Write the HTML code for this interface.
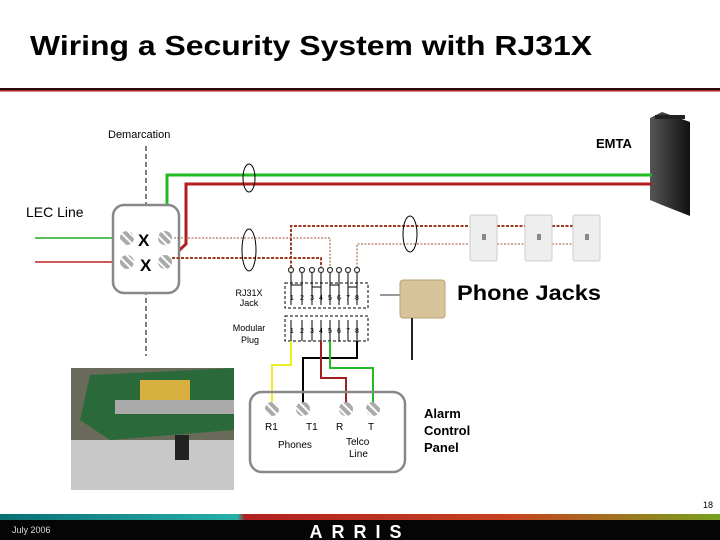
<!DOCTYPE html>
<html><head><meta charset="utf-8"><style>
body{margin:0;background:#fff;}
svg{display:block;font-family:"Liberation Sans",sans-serif;}
</style></head><body>
<svg width="720" height="540" viewBox="0 0 720 540">
<defs>
<linearGradient id="fb" x1="0" x2="1"><stop offset="0" stop-color="#0a6f72"/><stop offset="0.33" stop-color="#25b0a8"/><stop offset="0.34" stop-color="#b02020"/><stop offset="0.7" stop-color="#c84020"/><stop offset="1" stop-color="#78a020"/></linearGradient>
<linearGradient id="em" x1="0" x2="1"><stop offset="0" stop-color="#555"/><stop offset="1" stop-color="#111"/></linearGradient>
<pattern id="scr" width="6" height="6" patternUnits="userSpaceOnUse" patternTransform="rotate(45)"><rect width="6" height="6" fill="#aaa"/><rect width="6" height="2" fill="#fff"/></pattern>
</defs>
<text x="30" y="55" font-size="28" font-weight="bold" fill="#000" textLength="562" lengthAdjust="spacingAndGlyphs">Wiring a Security System with RJ31X</text>
<rect x="0" y="88" width="720" height="2" fill="#2a0a0a"/>
<rect x="0" y="90" width="720" height="1.5" fill="#a82020"/>

<text x="108" y="138" font-size="11" fill="#000">Demarcation</text>
<line x1="146" y1="146" x2="146" y2="356" stroke="#000" stroke-dasharray="5,3"/>
<text x="26" y="217" font-size="14" fill="#000">LEC Line</text>
<text x="596" y="148" font-size="13" font-weight="bold">EMTA</text>

<polygon points="650,118 662,112 690,122 690,216 662,205 650,200" fill="url(#em)"/>
<rect x="655" y="115" width="30" height="4" fill="#222"/>

<line x1="35" y1="238" x2="122" y2="238" stroke="#2a2" stroke-width="1.5"/>
<line x1="35" y1="262" x2="122" y2="262" stroke="#c02020" stroke-width="1.5"/>
<polyline points="167,232 167,175 652,175" fill="none" stroke="#2b2" stroke-width="3"/>
<polyline points="171,258 186,244 186,184 652,184" fill="none" stroke="#b01e1e" stroke-width="3"/>

<rect x="113" y="205" width="66" height="88" rx="11" fill="#fff" stroke="#888" stroke-width="2.5"/>
<circle cx="127" cy="238" r="7" fill="url(#scr)"/><circle cx="165" cy="238" r="7" fill="url(#scr)"/>
<circle cx="127" cy="262" r="7" fill="url(#scr)"/><circle cx="165" cy="262" r="7" fill="url(#scr)"/>
<text x="138" y="246" font-size="17" font-weight="bold">X</text>
<text x="140" y="271" font-size="17" font-weight="bold">X</text>

<polyline points="174,238 330,238 330,268" fill="none" stroke="#a05030" stroke-width="1" stroke-dasharray="2,1.5"/>
<polyline points="172,258 321,258 321,268" fill="none" stroke="#a03a20" stroke-width="2" stroke-dasharray="3,1.5"/>
<polyline points="291,268 291,226 470,226" fill="none" stroke="#a03a20" stroke-width="2" stroke-dasharray="3,1.5"/>
<polyline points="357,268 357,244 470,244" fill="none" stroke="#a05030" stroke-width="1" stroke-dasharray="2,1.5"/>
<line x1="497" y1="226" x2="525" y2="226" stroke="#a03a20" stroke-width="2" stroke-dasharray="3,1.5"/>
<line x1="552" y1="226" x2="573" y2="226" stroke="#a03a20" stroke-width="2" stroke-dasharray="3,1.5"/>
<line x1="497" y1="244" x2="525" y2="244" stroke="#a05030" stroke-dasharray="2,1.5"/>
<line x1="552" y1="244" x2="573" y2="244" stroke="#a05030" stroke-dasharray="2,1.5"/>

<ellipse cx="249" cy="178" rx="6" ry="14" fill="none" stroke="#000"/>
<ellipse cx="249" cy="250" rx="7" ry="21" fill="none" stroke="#000"/>
<ellipse cx="410" cy="234" rx="7" ry="18" fill="none" stroke="#000"/>

<g fill="#eee" stroke="#ccc"><rect x="470" y="215" width="27" height="46" rx="2"/><rect x="525" y="215" width="27" height="46" rx="2"/><rect x="573" y="215" width="27" height="46" rx="2"/></g>
<g fill="#888"><rect x="482" y="234" width="4" height="6"/><rect x="537" y="234" width="4" height="6"/><rect x="585" y="234" width="4" height="6"/></g>

<g fill="#fff" stroke="#333" stroke-width="1.2">
<circle cx="291" cy="270" r="2.5"/><circle cx="302" cy="270" r="2.5"/><circle cx="312" cy="270" r="2.5"/><circle cx="321" cy="270" r="2.5"/><circle cx="330" cy="270" r="2.5"/><circle cx="339" cy="270" r="2.5"/><circle cx="348" cy="270" r="2.5"/><circle cx="357" cy="270" r="2.5"/></g>
<g stroke="#000" stroke-width="1" fill="none">
<path d="M291,273V305M302,273V305M312,273V305M321,273V305M330,273V305M339,273V305M348,273V305M357,273V305"/>
<path d="M291,285H302M312,287H321M330,285H339M348,287H357"/>
<path d="M291,320V341M302,320V341M312,320V341M321,320V341M330,320V341M339,320V341M348,320V341M357,320V341"/>
</g>
<rect x="285" y="283" width="83" height="25" fill="none" stroke="#000" stroke-dasharray="3,2"/>
<rect x="285" y="316" width="83" height="25" fill="none" stroke="#000" stroke-dasharray="3,2"/>
<g font-size="7" text-anchor="middle"><text x="292" y="300">1</text><text x="302" y="300">2</text><text x="312" y="300">3</text><text x="321" y="300">4</text><text x="330" y="300">5</text><text x="339" y="300">6</text><text x="348" y="300">7</text><text x="357" y="300">8</text>
<text x="292" y="333">1</text><text x="302" y="333">2</text><text x="312" y="333">3</text><text x="321" y="333">4</text><text x="330" y="333">5</text><text x="339" y="333">6</text><text x="348" y="333">7</text><text x="357" y="333">8</text></g>
<g font-size="9" text-anchor="middle"><text x="249" y="296">RJ31X</text><text x="249" y="306">Jack</text><text x="249" y="331">Modular</text><text x="250" y="343">Plug</text></g>

<text x="457" y="300" font-size="21" font-weight="bold" textLength="144" lengthAdjust="spacingAndGlyphs">Phone Jacks</text>
<line x1="380" y1="295" x2="401" y2="295" stroke="#333"/>
<rect x="400" y="280" width="45" height="38" rx="3" fill="#d8c49a" stroke="#b8a478"/>
<line x1="412" y1="318" x2="412" y2="360" stroke="#222" stroke-width="2"/>

<polyline points="291,341 291,365 272,365 272,403" fill="none" stroke="#ee2" stroke-width="2"/>
<polyline points="357,341 357,358 303,358 303,403" fill="none" stroke="#000" stroke-width="2"/>
<polyline points="321,341 321,378 346,378 346,403" fill="none" stroke="#a02020" stroke-width="2"/>
<polyline points="330,341 330,368 373,368 373,403" fill="none" stroke="#2b2" stroke-width="2"/>
<rect x="250" y="392" width="155" height="80" rx="12" fill="none" stroke="#888" stroke-width="2.5"/>
<circle cx="272" cy="409" r="7" fill="url(#scr)"/><circle cx="303" cy="409" r="7" fill="url(#scr)"/><circle cx="346" cy="409" r="7" fill="url(#scr)"/><circle cx="373" cy="409" r="7" fill="url(#scr)"/>
<g font-size="10"><text x="265" y="430">R1</text><text x="306" y="430">T1</text><text x="336" y="430">R</text><text x="368" y="430">T</text><text x="278" y="448">Phones</text><text x="346" y="445">Telco</text><text x="349" y="457">Line</text></g>
<g font-size="13" font-weight="bold"><text x="424" y="418">Alarm</text><text x="424" y="435">Control</text><text x="424" y="452">Panel</text></g>

<rect x="71" y="368" width="163" height="122" fill="#6a6a5a"/>
<polygon points="90,375 234,368 234,430 110,440 80,420" fill="#2a6a3a"/>
<rect x="140" y="380" width="50" height="22" fill="#d8b040"/>
<rect x="115" y="400" width="119" height="14" fill="#aaa"/>
<rect x="71" y="440" width="163" height="50" fill="#c8c8c8"/>
<rect x="175" y="435" width="14" height="25" fill="#222"/>

<text x="703" y="508" font-size="9">18</text>
<rect x="0" y="514" width="720" height="6" fill="url(#fb)"/>
<rect x="0" y="520" width="720" height="20" fill="#050505"/>
<text x="12" y="533" font-size="9" fill="#ddd">July 2006</text>
<text x="360" y="538" font-size="18" font-weight="bold" fill="#fff" text-anchor="middle" letter-spacing="9">ARRIS</text>
</svg>
</body></html>
